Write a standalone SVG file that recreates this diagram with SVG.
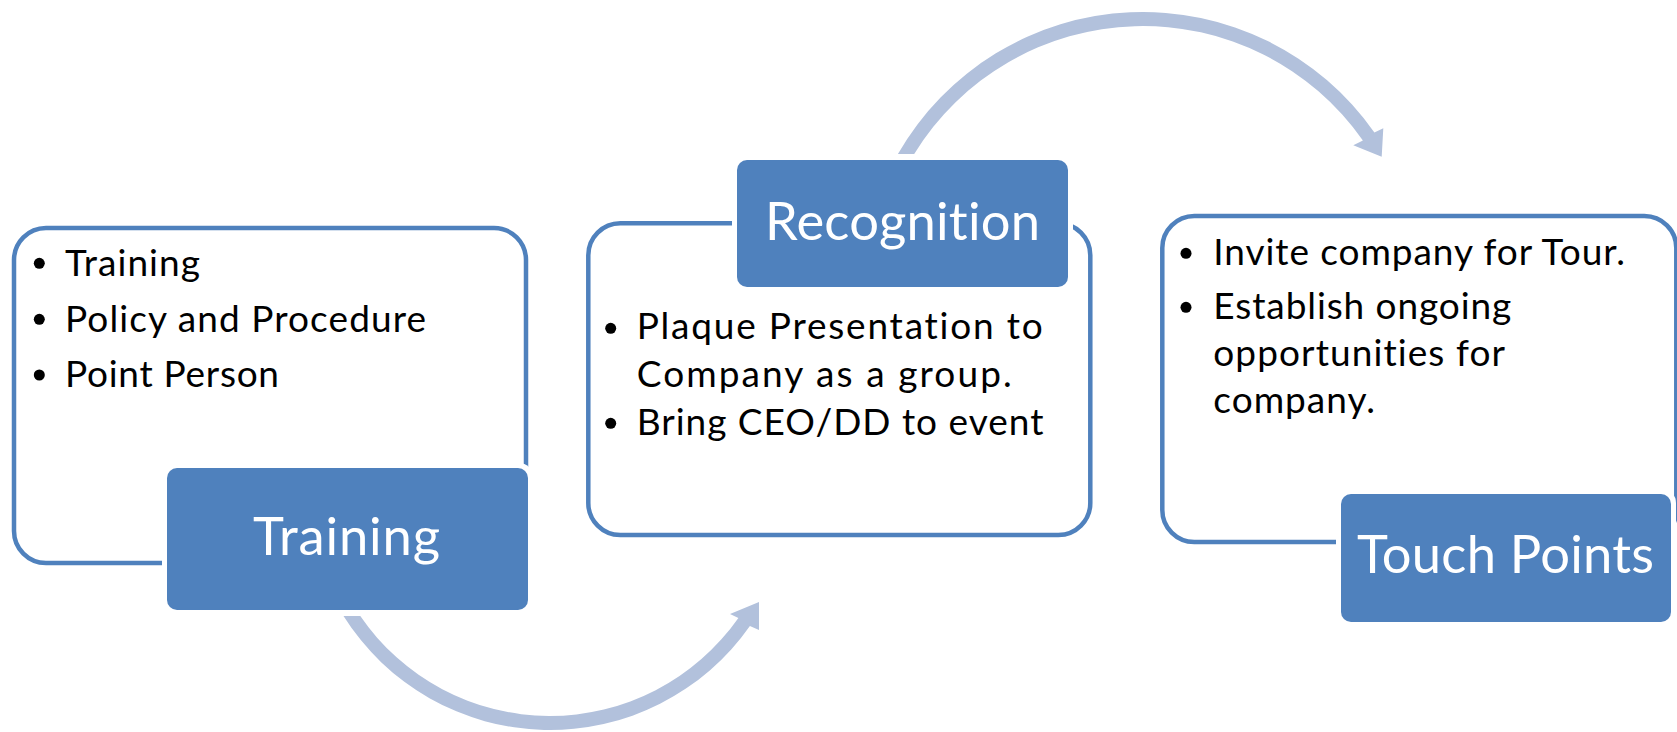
<svg xmlns="http://www.w3.org/2000/svg" width="1677" height="732" viewBox="0 0 1677 732">
<style>
.outline{fill:#FFFFFF;stroke:#4F81BD;stroke-width:4.5}
.halo{fill:#FFFFFF}
.label{fill:#4F81BD}
.body{font-family:Lato,"Open Sans","Liberation Sans",sans-serif;font-size:37px;fill:#000000;font-variant-ligatures:none}
.head{font-family:Lato,"Open Sans","Liberation Sans",sans-serif;font-size:52.5px;fill:#FFFFFF;font-variant-ligatures:none}
.bullet{fill:#000000}
.arrow{fill:#B2C1DC}
</style>
<rect width="1677" height="732" fill="#FFFFFF"/>
<g id="connectors">
<path class="arrow" d="M 343.5 616 A 244 244 0 0 0 749.9 625.9 L 759 630 L 759 602 L 730 614 L 738.4 617.9 A 230 230 0 0 1 360.3 616 Z"/>
<path class="arrow" d="M 897.9 154 A 282.5 282.5 0 0 1 1374.4 132.5 L 1383.3 128.3 L 1381.7 156.7 L 1353.3 145.3 L 1362.9 140.5 A 268.5 268.5 0 0 0 914.2 154 Z"/>
</g>
<g id="node-training">
<rect class="outline" x="14" y="228" width="512" height="335" rx="32"/>
<circle class="bullet" cx="39.3" cy="263.3" r="5.5"/>
<circle class="bullet" cx="39.3" cy="319.3" r="5.5"/>
<circle class="bullet" cx="39.3" cy="375" r="5.5"/>
<text class="body" x="65" y="276" textLength="135">Training</text>
<text class="body" x="65" y="331.7" textLength="361">Policy and Procedure</text>
<text class="body" x="65" y="386.7" textLength="214">Point Person</text>
<rect class="halo" x="162" y="463" width="371" height="152" rx="14"/>
<rect class="label" x="167" y="468" width="361" height="142" rx="10"/>
<text class="head" x="253" y="555" textLength="187">Training</text>
</g>
<g id="node-recognition">
<rect class="outline" x="588.3" y="223.3" width="502" height="311.7" rx="32"/>
<circle class="bullet" cx="610.7" cy="328.3" r="5.5"/>
<circle class="bullet" cx="610.7" cy="423.3" r="5.5"/>
<text class="body" x="636.7" y="339.3" textLength="406">Plaque Presentation to</text>
<text class="body" x="636.7" y="386.7" textLength="375">Company as a group.</text>
<text class="body" x="636.7" y="435" textLength="406.7">Bring CEO/DD to event</text>
<rect class="halo" x="732" y="155" width="341" height="137" rx="14"/>
<rect class="label" x="737" y="160" width="331" height="127" rx="10"/>
<text class="head" x="765" y="240" textLength="275">Recognition</text>
</g>
<g id="node-touchpoints">
<rect class="outline" x="1162.3" y="216" width="514" height="326" rx="32"/>
<circle class="bullet" cx="1186" cy="253.3" r="5.5"/>
<circle class="bullet" cx="1186" cy="307.3" r="5.5"/>
<text class="body" x="1213.3" y="265" textLength="411.7">Invite company for Tour.</text>
<text class="body" x="1213.3" y="319.3" textLength="298">Establish ongoing</text>
<text class="body" x="1213.3" y="366" textLength="291.7">opportunities for</text>
<text class="body" x="1213.3" y="412.7" textLength="161.7">company.</text>
<rect class="halo" x="1336" y="489" width="340" height="138" rx="14"/>
<rect class="label" x="1341" y="494" width="330" height="128" rx="10"/>
<text class="head" x="1357" y="573.3" textLength="297">Touch Points</text>
</g>
</svg>
